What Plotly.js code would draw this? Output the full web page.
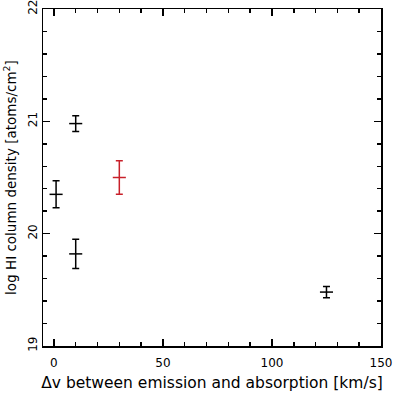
<!DOCTYPE html>
<html>
<head>
<meta charset="utf-8">
<script src="https://cdn.plot.ly/plotly-3.0.1.min.js"></script>
<style>
  html, body { margin: 0; padding: 0; background: #fff; }
  #plot { width: 393px; height: 393px; }
</style>
</head>
<body>
<div id="plot"></div>
<script>
// black points: velocity offset vs log N(HI)
var dv = [1, 10, 10, 125];
var dvErr = [3, 3, 3, 3];
var logN = [20.35, 20.98, 19.82, 19.48];
var logNErr = [0.12, 0.07, 0.13, 0.05];

// red point
var dvRed = [30];
var dvRedErr = [3];
var logNRed = [20.5];
var logNRedErr = [0.15];

var FONT = 'DejaVu Sans, Verdana, sans-serif';

var black = {
    x: dv,
    y: logN,
    mode: 'markers',
    type: 'scatter',
    marker: {size: 1, color: 'rgba(0,0,0,0)'},
    error_x: {type: 'data', array: dvErr, visible: true, color: '#000', thickness: 1.5, width: 0},
    error_y: {type: 'data', array: logNErr, visible: true, color: '#000', thickness: 1.5, width: 3.5},
    showlegend: false,
    hoverinfo: 'none'
};

var red = {
    x: dvRed,
    y: logNRed,
    mode: 'markers',
    type: 'scatter',
    marker: {size: 1, color: 'rgba(0,0,0,0)'},
    error_x: {type: 'data', array: dvRedErr, visible: true, color: '#c8202a', thickness: 1.5, width: 0},
    error_y: {type: 'data', array: logNRedErr, visible: true, color: '#c8202a', thickness: 1.5, width: 3.5},
    showlegend: false,
    hoverinfo: 'none'
};

var axisCommon = {
    showline: true,
    mirror: 'allticks',
    linecolor: '#000',
    linewidth: 1.5,
    ticks: 'inside',
    ticklen: 7,
    tickwidth: 1.5,
    tickcolor: '#000',
    showgrid: false,
    zeroline: false,
    ticklabeloverflow: 'allow',
    tickfont: {family: FONT, size: 12, color: '#000'}
};

var layout = {
    width: 393,
    height: 393,
    margin: {l: 43, r: 12, t: 9, b: 47},
    paper_bgcolor: '#fff',
    plot_bgcolor: '#fff',
    font: {family: FONT, size: 12, color: '#000'},
    xaxis: Object.assign({}, axisCommon, {
        range: [-5, 150],
        tickvals: [0, 50, 100, 150],
        ticklabelstandoff: 5,
        minor: {dtick: 10, ticks: 'inside', ticklen: 4, tickwidth: 1.5, tickcolor: '#000', showgrid: false},
        title: {text: 'Δv between emission and absorption [km/s]', standoff: 8,
                font: {family: FONT, size: 15.5, color: '#000'}}
    }),
    yaxis: Object.assign({}, axisCommon, {
        range: [19, 22],
        tickvals: [19, 20, 21, 22],
        tickangle: -90,
        minor: {dtick: 0.2, ticks: 'inside', ticklen: 4, tickwidth: 1.5, tickcolor: '#000', showgrid: false},
        title: {text: 'log HI column density [atoms/cm<sup>2</sup>]', standoff: 6,
                font: {family: FONT, size: 13.5, color: '#000'}}
    })
};

Plotly.newPlot('plot', [black, red], layout, {displayModeBar: false, staticPlot: true});
</script>
</body>
</html>
